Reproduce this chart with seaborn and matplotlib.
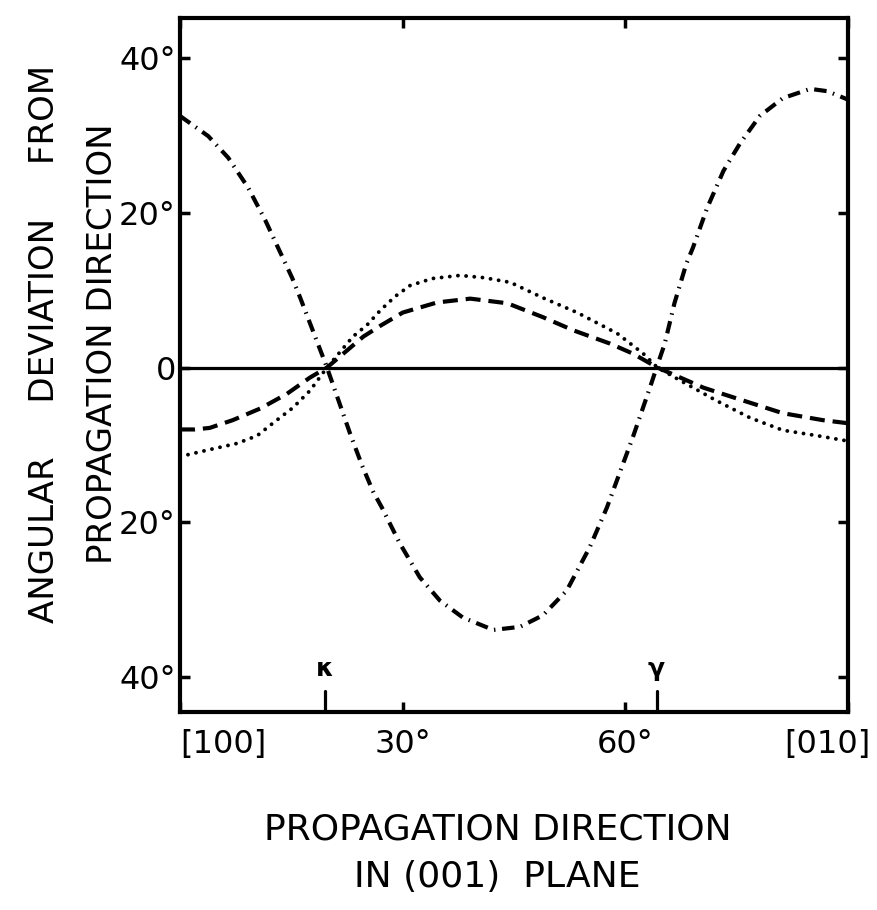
import matplotlib
matplotlib.use('Agg')
import matplotlib.pyplot as plt
import matplotlib.transforms as mtransforms
import seaborn as sns
import pandas as pd

# --- data (degrees) ---
dashdot_x = [0, 3.8, 6.5, 9.2, 11.5, 13.2, 15.1, 16.2, 19.8, 22.9, 24.5, 26.0,
             27.2, 29.6, 32.3, 35.0, 38.1, 42.2, 45.8, 48.9, 52.1, 55.2, 57.5,
             61.0, 63.3, 64.2, 65.3, 66.6, 68.2, 69.1, 71.0, 73.2, 75.4, 78.1,
             81.2, 84.9, 87.2, 90.0]
dashdot_y = [32.5, 29.9, 27.1, 23.2, 19.0, 15.5, 11.6, 9.0, 0.0, -8.5, -12.6, -16.0,
             -18.1, -22.7, -27.1, -30.1, -32.3, -33.9, -33.5, -32.0, -28.8, -23.2, -18.1,
             -9.0, -2.6, 0.0, 3.1, 8.3, 13.4, 15.5, 20.6, 25.4, 28.9, 32.5,
             34.8, 36.0, 35.7, 34.6]

dotted_x = [0, 4.0, 7.7, 10.4, 12.5, 15.2, 17.5, 19.8, 23.3, 25.2, 27.0, 29.0,
            31.0, 34.0, 37.7, 41.0, 44.5, 48.9, 53.5, 58.9, 62.4, 64.3, 67.8,
            72.3, 76.8, 81.2, 85.8, 90.0]
dotted_y = [-11.5, -10.6, -9.8, -8.8, -7.2, -5.2, -3.0, 0.0, 4.0, 5.5, 7.4, 9.2,
            10.6, 11.5, 11.9, 11.6, 11.0, 9.0, 7.1, 4.4, 1.8, 0.0, -1.9,
            -4.3, -6.5, -8.1, -8.8, -9.5]

dashed_x = [0, 2.0, 4.0, 7.1, 10.8, 14.4, 17.5, 19.8, 24.7, 27.0, 30.0, 34.6,
            39.1, 44.1, 48.9, 53.0, 57.9, 61.0, 64.3, 70.5, 75.0, 81.2, 86.6, 90.0]
dashed_y = [-8.0, -8.0, -7.8, -6.8, -5.3, -3.4, -1.3, 0.0, 4.0, 5.4, 7.1, 8.4,
            8.9, 8.3, 6.5, 4.8, 3.1, 1.8, 0.0, -2.6, -4.0, -5.9, -6.8, -7.2]

xticks = [0, 30, 60, 90]
xtick_labels = ['[100]', '30°', '60°', '[010]']
yticks = [40, 20, 0, -20, -40]
ytick_labels = ['40°', '20°', '0', '20°', '40°']

marker_x = [19.5, 64.2]
marker_labels = ['κ', 'γ']

sns.set_style('ticks')
plt.rcParams['font.family'] = ['DejaVu Sans']
plt.rcParams.update({'text.color': 'black', 'axes.labelcolor': 'black',
                     'xtick.color': 'black', 'ytick.color': 'black'})

fig = plt.figure(figsize=(8.78, 9.10), dpi=100)
ax = fig.add_axes([0.205, 0.2176, 0.761, 0.763])

ax.axhline(0, color='black', lw=2.3, zorder=1)

df_dd = pd.DataFrame({'x': dashdot_x, 'y': dashdot_y})
df_dot = pd.DataFrame({'x': dotted_x, 'y': dotted_y})
df_dash = pd.DataFrame({'x': dashed_x, 'y': dashed_y})

sns.lineplot(data=df_dd, x='x', y='y', ax=ax, color='black', lw=3.0,
             linestyle=(0, (3.0, 1.6, 0.35, 1.6)), estimator=None, sort=False)
sns.lineplot(data=df_dot, x='x', y='y', ax=ax, color='black', lw=2.8,
             linestyle=(0, (0.01, 2.1)), dash_capstyle='round',
             estimator=None, sort=False)
sns.lineplot(data=df_dash, x='x', y='y', ax=ax, color='black', lw=3.0,
             linestyle=(0, (3.6, 1.9)), estimator=None, sort=False)

# kappa / gamma markers on the bottom axis
for mx, lab in zip(marker_x, marker_labels):
    ax.axvline(mx, ymin=0, ymax=0.03, color='black', lw=2.3)
    ax.text(mx, -40.5, lab, ha='center', va='bottom', fontsize=18,
            fontweight='bold')

ax.set_xlim(0, 90)
ax.set_ylim(-44.5, 45.2)
ax.set_xticks(xticks, labels=xtick_labels)
ax.set_yticks(yticks, labels=ytick_labels)
ax.tick_params(direction='in', length=7, width=2.5, labelsize=23,
               top=True, right=True)
ax.tick_params(axis='x', pad=12)
ax.tick_params(axis='y', pad=3)
for s in ax.spines.values():
    s.set_linewidth(3)
    s.set_color('black')

# end labels sit inside / beyond the axis ends as in the original
xl = ax.get_xticklabels()
xl[0].set_ha('left')
xl[-1].set_ha('right')
xl[-1].set_transform(xl[-1].get_transform() +
                     mtransforms.ScaledTranslation(0.22, 0, fig.dpi_scale_trans))

ax.set_xlabel('PROPAGATION DIRECTION\nIN (001)  PLANE', fontsize=26,
              linespacing=1.5)
ax.xaxis.set_label_coords(0.475, -0.145, transform=ax.transAxes)
ax.xaxis.label.set_va('top')
ax.set_ylabel('ANGULAR     DEVIATION     FROM\nPROPAGATION DIRECTION', fontsize=24.5,
              linespacing=1.95)
ax.yaxis.set_label_coords(-0.092, 0.53, transform=ax.transAxes)

fig.savefig('out.png', dpi=100, facecolor='white')
